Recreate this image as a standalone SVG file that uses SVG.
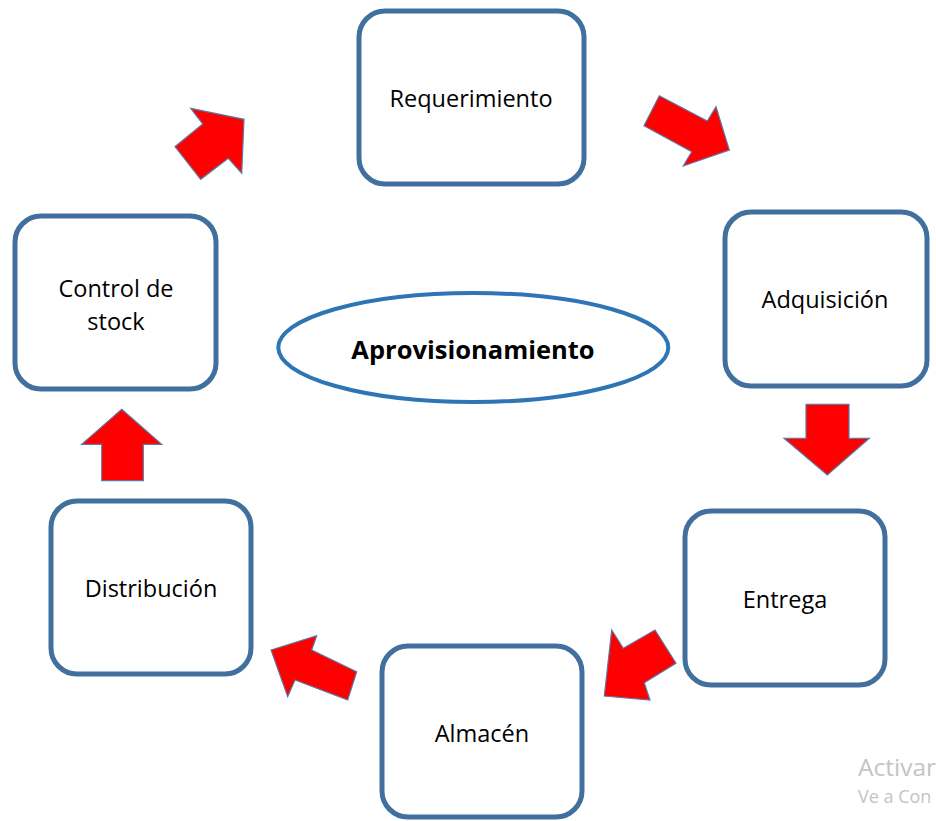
<svg xmlns="http://www.w3.org/2000/svg" width="936" height="821" viewBox="0 0 936 821">
<style>
.box{fill:#fff;stroke:#41709f;stroke-width:5}
.lbl{font-family:"Open Sans","Liberation Sans",sans-serif;font-size:23.5px;fill:#000;text-anchor:middle}
.title{font-family:"Open Sans","Liberation Sans",sans-serif;font-size:25.5px;font-weight:bold;fill:#000;text-anchor:middle}
.arr{fill:#ff0000;stroke:#5a78a8;stroke-width:1.2;stroke-linejoin:miter}
.wm{font-family:"Open Sans","Liberation Sans",sans-serif;fill:#c4c4c4}
</style>
<rect width="936" height="821" fill="#fff"/>
<g id="requerimiento"><rect class="box" x="359" y="11" width="225" height="173" rx="26"/><text class="lbl" x="471" y="107">Requerimiento</text></g>
<g id="adquisicion"><rect class="box" x="725" y="212" width="202" height="174" rx="26"/><text class="lbl" x="825" y="308">Adquisición</text></g>
<g id="entrega"><rect class="box" x="685" y="511" width="200" height="174" rx="26"/><text class="lbl" x="785" y="608">Entrega</text></g>
<g id="almacen"><rect class="box" x="382" y="646" width="200" height="171" rx="26"/><text class="lbl" x="482" y="742">Almacén</text></g>
<g id="distribucion"><rect class="box" x="51" y="501" width="200" height="173" rx="26"/><text class="lbl" x="151" y="597">Distribución</text></g>
<g id="control"><rect class="box" x="15" y="216" width="201" height="173" rx="26"/><text class="lbl" x="116" y="297">Control de</text><text class="lbl" x="116" y="330">stock</text></g>
<g id="aprovisionamiento"><ellipse cx="473.3" cy="347.5" rx="195" ry="54.5" fill="#fff" stroke="#2e75b6" stroke-width="4"/><text class="title" x="473" y="359">Aprovisionamiento</text></g>
<g id="connectors">
<polygon class="arr" points="659.3,95.7 707.3,121 716,106.7 729.3,150 683.3,166 691.7,151.7 644,125.7"/>
<polygon class="arr" points="806,404.3 849,404.3 849,438.3 869.3,438.3 827.3,475 784,438.3 806,438.3"/>
<polygon class="arr" points="604.3,696 611.7,630 623.3,648.3 655,630 676,663.3 644.3,682.7 650,700"/>
<polygon class="arr" points="271,650 316.7,635.7 311.7,650 356.7,671.7 347.7,700 295,680 287.7,696.7"/>
<polygon class="arr" points="121.7,409.3 161.7,444.3 143.3,444.3 143.3,480.7 101.7,480.7 101.7,444.3 81.7,444.3"/>
<polygon class="arr" points="190.7,108.3 244,119.3 241.7,173.3 228.3,158.3 200.7,179.3 175,146.7 202.7,124"/>
</g>
<text class="wm" x="858" y="776" style="font-size:24.5px">Activar</text>
<text class="wm" x="858" y="803" style="font-size:18px">Ve a Con</text>
</svg>
